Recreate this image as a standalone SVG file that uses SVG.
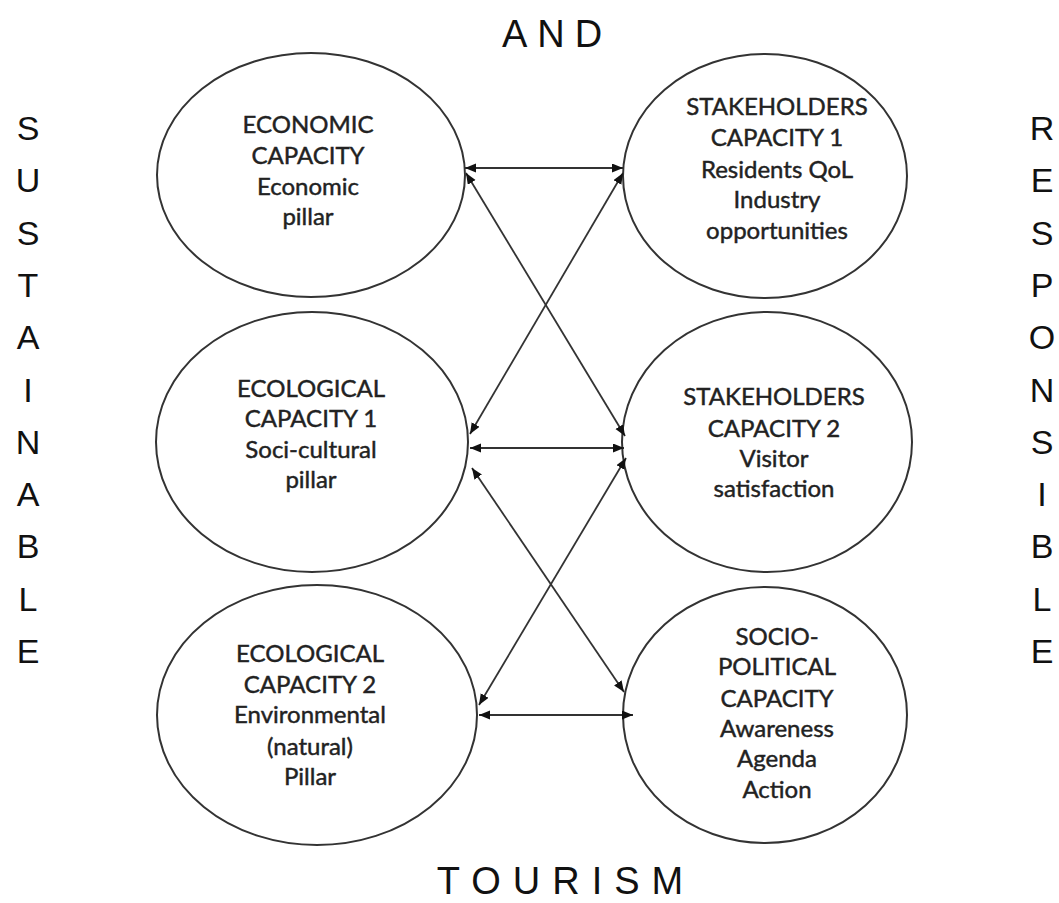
<svg xmlns="http://www.w3.org/2000/svg" width="1059" height="903" viewBox="0 0 1059 903">
<style>
.node ellipse{fill:#fff;stroke:#333;stroke-width:2}
.node text{font-family:Lato,"Liberation Sans",sans-serif;font-size:24px;fill:#222;stroke:#222;stroke-width:0.45;text-anchor:middle}
.big{font-family:"Liberation Sans",Arial,sans-serif;font-size:34px;fill:#111;text-anchor:middle}
.conn line{stroke:#333;stroke-width:1.8;marker-start:url(#ah);marker-end:url(#ah)}
</style>
<defs>
<marker id="ah" markerUnits="userSpaceOnUse" markerWidth="12" markerHeight="10" refX="11" refY="4.5" orient="auto-start-reverse">
<path d="M0,0 L11,4.5 L0,9 z" fill="#111"/>
</marker>
</defs>
<rect width="1059" height="903" fill="#fff"/>
<g id="title-and"><text class="big" x="557" y="47" style="font-size:38px;letter-spacing:10px">AND</text></g>
<g id="title-tourism"><text class="big" x="566" y="894" style="font-size:38px;letter-spacing:12px">TOURISM</text></g>
<g id="sustainable">
<text class="big" x="28" y="140">S</text>
<text class="big" x="28" y="192">U</text>
<text class="big" x="28" y="245">S</text>
<text class="big" x="28" y="297">T</text>
<text class="big" x="28" y="349">A</text>
<text class="big" x="28" y="402">I</text>
<text class="big" x="28" y="454">N</text>
<text class="big" x="28" y="506">A</text>
<text class="big" x="28" y="558">B</text>
<text class="big" x="28" y="611">L</text>
<text class="big" x="28" y="663">E</text>
</g>
<g id="responsible">
<text class="big" x="1042" y="140">R</text>
<text class="big" x="1042" y="192">E</text>
<text class="big" x="1042" y="245">S</text>
<text class="big" x="1042" y="297">P</text>
<text class="big" x="1042" y="349">O</text>
<text class="big" x="1042" y="402">N</text>
<text class="big" x="1042" y="454">S</text>
<text class="big" x="1042" y="506">I</text>
<text class="big" x="1042" y="558">B</text>
<text class="big" x="1042" y="611">L</text>
<text class="big" x="1042" y="663">E</text>
</g>
<g id="economic" class="node">
<ellipse cx="311" cy="175" rx="154" ry="122"/>
<text><tspan x="308" y="133">ECONOMIC</tspan><tspan x="308" y="164">CAPACITY</tspan><tspan x="308" y="195">Economic</tspan><tspan x="308" y="225">pillar</tspan></text>
</g>
<g id="ecological1" class="node">
<ellipse cx="312" cy="442" rx="156" ry="130"/>
<text><tspan x="311" y="397">ECOLOGICAL</tspan><tspan x="311" y="427">CAPACITY 1</tspan><tspan x="311" y="458">Soci-cultural</tspan><tspan x="311" y="488">pillar</tspan></text>
</g>
<g id="ecological2" class="node">
<ellipse cx="317" cy="715" rx="160" ry="130"/>
<text><tspan x="310" y="662">ECOLOGICAL</tspan><tspan x="310" y="693">CAPACITY 2</tspan><tspan x="310" y="723">Environmental</tspan><tspan x="310" y="755">(natural)</tspan><tspan x="310" y="785">Pillar</tspan></text>
</g>
<g id="stakeholders1" class="node">
<ellipse cx="765" cy="176" rx="142" ry="122"/>
<text><tspan x="777" y="115">STAKEHOLDERS</tspan><tspan x="777" y="146">CAPACITY 1</tspan><tspan x="777" y="178">Residents QoL</tspan><tspan x="777" y="208">Industry</tspan><tspan x="777" y="239">opportunities</tspan></text>
</g>
<g id="stakeholders2" class="node">
<ellipse cx="767" cy="442" rx="145" ry="130"/>
<text><tspan x="774" y="405">STAKEHOLDERS</tspan><tspan x="774" y="437">CAPACITY 2</tspan><tspan x="774" y="467">Visitor</tspan><tspan x="774" y="497">satisfaction</tspan></text>
</g>
<g id="sociopolitical" class="node">
<ellipse cx="765" cy="715" rx="142" ry="128"/>
<text><tspan x="777" y="645">SOCIO-</tspan><tspan x="777" y="675">POLITICAL</tspan><tspan x="777" y="707">CAPACITY</tspan><tspan x="777" y="737">Awareness</tspan><tspan x="777" y="767">Agenda</tspan><tspan x="777" y="798">Action</tspan></text>
</g>
<g id="connectors" class="conn">
<line x1="465" y1="168" x2="623" y2="168"/>
<line x1="466" y1="173" x2="625" y2="436"/>
<line x1="623" y1="173" x2="470" y2="434"/>
<line x1="470" y1="448" x2="624" y2="448"/>
<line x1="472" y1="468" x2="624" y2="692"/>
<line x1="626" y1="458" x2="479" y2="705"/>
<line x1="479" y1="715" x2="633" y2="715"/>
</g>
</svg>
